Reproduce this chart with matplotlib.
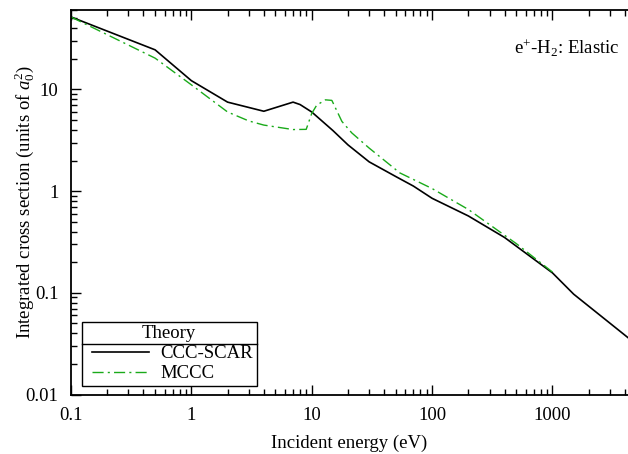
import matplotlib
matplotlib.use("Agg")
import matplotlib.pyplot as plt
from matplotlib.ticker import LogLocator, FuncFormatter, NullFormatter
from matplotlib.lines import Line2D

plt.rcParams['font.family'] = ['Liberation Serif', 'DejaVu Serif']
plt.rcParams['mathtext.fontset'] = 'custom'
plt.rcParams['mathtext.rm'] = 'Liberation Serif'
plt.rcParams['mathtext.it'] = 'Liberation Serif:italic'

# CCC-SCAR (black solid)
ccc_energy = [0.1, 0.5, 1, 2, 4, 7, 8, 10, 15, 20, 30, 50, 70, 100, 200, 400, 1000, 1500, 5000]
ccc_sigma = [51.6, 24.5, 12.2, 7.5, 6.1, 7.5, 7.1, 6.0, 3.94, 2.85, 1.94, 1.39, 1.12, 0.85, 0.57, 0.35, 0.157, 0.097, 0.031]

# MCCC (green dash-dot)
mccc_energy = [0.1, 0.5, 1, 2, 3, 4, 7, 9, 10, 11, 13, 14.7, 17.8, 21.5, 30, 54, 100, 200, 500, 1000]
mccc_sigma = [51.6, 20.3, 11.1, 6.0, 4.9, 4.46, 4.03, 4.05, 5.8, 7.0, 7.9, 7.8, 4.85, 3.74, 2.65, 1.51, 1.06, 0.66, 0.305, 0.16]

fig = plt.figure(figsize=(6.28, 4.54), dpi=100)
ax = fig.add_axes([0.113, 0.131, 0.887, 0.847])

ax.plot(ccc_energy, ccc_sigma, color='black', lw=1.2, label='CCC-SCAR')
ax.plot(mccc_energy, mccc_sigma, color='#1aaa1a', lw=1.0,
        linestyle=(0, (8, 3, 1.5, 3)), label='MCCC')

ax.set_xscale('log')
ax.set_yscale('log')
ax.set_xlim(0.1, 4240)
ax.set_ylim(0.01, 60.4)

fmt = FuncFormatter(lambda v, p: '%g' % v)
ax.xaxis.set_major_locator(LogLocator(base=10))
ax.yaxis.set_major_locator(LogLocator(base=10))
ax.xaxis.set_major_formatter(fmt)
ax.yaxis.set_major_formatter(fmt)
ax.xaxis.set_minor_locator(LogLocator(base=10, subs=range(2, 10)))
ax.yaxis.set_minor_locator(LogLocator(base=10, subs=range(2, 10)))
ax.xaxis.set_minor_formatter(NullFormatter())
ax.yaxis.set_minor_formatter(NullFormatter())

ax.spines['right'].set_visible(False)
for s in ['left', 'top', 'bottom']:
    ax.spines[s].set_linewidth(1.3)
ax.tick_params(which='both', direction='in', top=True, right=False, labelsize=13.5, width=1.0)
ax.tick_params(which='major', length=7)
ax.tick_params(which='minor', length=4)
ax.tick_params(axis='x', pad=9)
ax.tick_params(axis='y', pad=9)

ax.set_xlabel('Incident energy (eV)', fontsize=13.5, labelpad=8)
ax.set_ylabel('Integrated cross section (units of $a_0^2$)', fontsize=13.5, labelpad=-8)

ax.text(0.985, 0.9, 'e$^{+}$-H$_2$: Elastic', transform=ax.transAxes,
        ha='right', va='center', fontsize=13.5)

leg = ax.legend(title='Theory', loc='lower left', bbox_to_anchor=(0.019, 0.022),
                fontsize=13.5, title_fontsize=13.5, frameon=True, fancybox=False,
                edgecolor='black', handlelength=3.0, borderpad=0.2,
                labelspacing=0.15, handletextpad=1.0, borderaxespad=0)
leg.get_frame().set_linewidth(1.0)
leg.get_frame().set_alpha(1)
# shift legend handles a bit right like the original
for h in leg.legend_handles:
    h.set_transform(h.get_transform() + matplotlib.transforms.Affine2D().translate(7, 0))

# separator line under legend title
fig.canvas.draw()
lb = leg.get_window_extent()
tb = leg.get_title().get_window_extent()
inv = fig.transFigure.inverted()
(x0, y0), (x1, y1) = inv.transform([(lb.x0, tb.y0 - 2), (lb.x1, tb.y0 - 2)])
fig.add_artist(Line2D([x0, x1], [y0, y1], color='black', lw=1.0, transform=fig.transFigure))

fig.savefig('out.png', dpi=100)
